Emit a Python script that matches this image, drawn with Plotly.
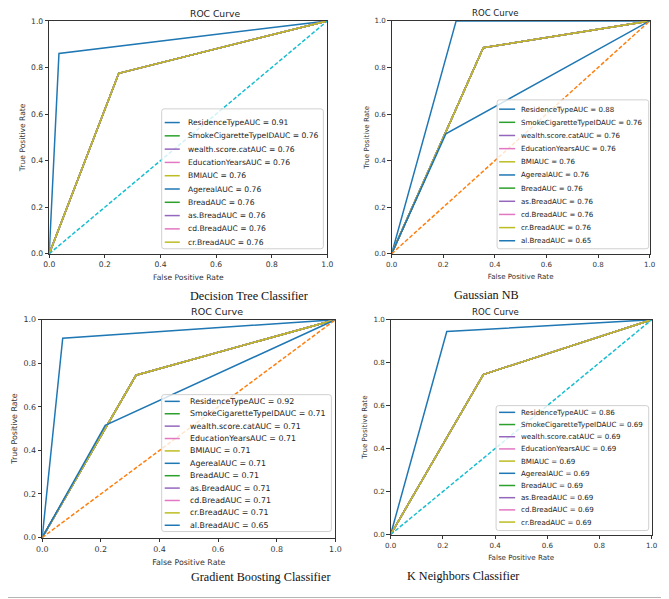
import plotly.graph_objects as go

# the page body adds an 8px margin; the figure keeps the window size and runs past it
OFF = 8
W, H = 669, 599
# small correction measured from earlier renders (window px = a + b * intended px)
AX, BX = 7.1, 0.978
AY, BY = 4.2, 0.984

# matplotlib default colour cycle
tab10 = ["#1f77b4", "#ff7f0e", "#2ca02c", "#d62728", "#9467bd",
         "#8c564b", "#e377c2", "#7f7f7f", "#bcbd22", "#17becf"]

features = ["ResidenceType", "SmokeCigaretteTypeID", "wealth.score.cat", "EducationYears",
            "BMI", "Agereal", "Bread", "as.Bread", "cd.Bread", "cr.Bread", "al.Bread"]

# Decision Tree Classifier
dt_auc = [0.91, 0.76, 0.76, 0.76, 0.76, 0.76, 0.76, 0.76, 0.76, 0.76]
dt_fpr = [[0, 0.035, 1], [0, 0.25, 1], [0, 0.25, 1], [0, 0.25, 1], [0, 0.25, 1],
          [0, 0.25, 1], [0, 0.25, 1], [0, 0.25, 1], [0, 0.25, 1], [0, 0.25, 1]]
dt_tpr = [[0, 0.86, 1], [0, 0.775, 1], [0, 0.775, 1], [0, 0.775, 1], [0, 0.775, 1],
          [0, 0.775, 1], [0, 0.775, 1], [0, 0.775, 1], [0, 0.775, 1], [0, 0.775, 1]]

# Gaussian NB
nb_auc = [0.88, 0.76, 0.76, 0.76, 0.76, 0.76, 0.76, 0.76, 0.76, 0.76, 0.65]
nb_fpr = [[0, 0.25, 1], [0, 0.355, 1], [0, 0.355, 1], [0, 0.355, 1], [0, 0.355, 1], [0, 0.355, 1],
          [0, 0.355, 1], [0, 0.355, 1], [0, 0.355, 1], [0, 0.355, 1], [0, 0.21, 1]]
nb_tpr = [[0, 1.0, 1], [0, 0.885, 1], [0, 0.885, 1], [0, 0.885, 1], [0, 0.885, 1], [0, 0.885, 1],
          [0, 0.885, 1], [0, 0.885, 1], [0, 0.885, 1], [0, 0.885, 1], [0, 0.515, 1]]

# Gradient Boosting Classifier
gb_auc = [0.92, 0.71, 0.71, 0.71, 0.71, 0.71, 0.71, 0.71, 0.71, 0.71, 0.65]
gb_fpr = [[0, 0.07, 1], [0, 0.32, 1], [0, 0.32, 1], [0, 0.32, 1], [0, 0.32, 1], [0, 0.32, 1],
          [0, 0.32, 1], [0, 0.32, 1], [0, 0.32, 1], [0, 0.32, 1], [0, 0.215, 1]]
gb_tpr = [[0, 0.915, 1], [0, 0.745, 1], [0, 0.745, 1], [0, 0.745, 1], [0, 0.745, 1], [0, 0.745, 1],
          [0, 0.745, 1], [0, 0.745, 1], [0, 0.745, 1], [0, 0.745, 1], [0, 0.515, 1]]

# K Neighbors Classifier
kn_auc = [0.86, 0.69, 0.69, 0.69, 0.69, 0.69, 0.69, 0.69, 0.69, 0.69]
kn_fpr = [[0, 0.215, 1], [0, 0.355, 1], [0, 0.355, 1], [0, 0.355, 1], [0, 0.355, 1],
          [0, 0.355, 1], [0, 0.355, 1], [0, 0.355, 1], [0, 0.355, 1], [0, 0.355, 1]]
kn_tpr = [[0, 0.945, 1], [0, 0.745, 1], [0, 0.745, 1], [0, 0.745, 1], [0, 0.745, 1],
          [0, 0.745, 1], [0, 0.745, 1], [0, 0.745, 1], [0, 0.745, 1], [0, 0.745, 1]]

captions = ["Decision Tree Classifier", "Gaussian NB",
            "Gradient Boosting Classifier", "K Neighbors Classifier"]
tick_vals = [0, 0.2, 0.4, 0.6, 0.8, 1.0]
tick_text = ["0.0", "0.2", "0.4", "0.6", "0.8", "1.0"]


# window pixel -> paper fraction
def px(x):
    return ((x - AX) / BX - OFF) / W


def py(y):
    return 1 - ((y - AY) / BY - OFF) / H


# pixel layout of each panel: axes box, legend box, legend rows, caption, text scale
panels = [
    dict(auc=dt_auc, fpr=dt_fpr, tpr=dt_tpr, ax=(50, 327, 20, 253), leg=(162, 323, 108, 248),
         row0=121.7, step=13.3, lx=(165, 180, 186), title_y=12.5, cap_y=295, s=1.0),
    dict(auc=nb_auc, fpr=nb_fpr, tpr=nb_tpr, ax=(391, 648, 20, 253), leg=(496, 647, 99, 248),
         row0=108.3, step=13.17, lx=(498, 514, 518), title_y=12.5, cap_y=294, s=0.93),
    dict(auc=gb_auc, fpr=gb_fpr, tpr=gb_tpr, ax=(43, 335, 319, 537), leg=(162, 331, 394, 531),
         row0=400.7, step=12.4, lx=(165, 180, 188), title_y=311, cap_y=576, s=1.04),
    dict(auc=kn_auc, fpr=kn_fpr, tpr=kn_tpr, ax=(390, 650, 319, 534), leg=(495, 647, 405, 530),
         row0=411.7, step=12.2, lx=(498, 514, 518), title_y=311, cap_y=575, s=0.935),
]

fig = go.Figure()
shapes = []
annotations = []


def rounded_rect(x0, x1, y0, y1, r=2.5):
    pts = [("M", x0 + r, y0), ("L", x1 - r, y0), ("Q", x1, y0), ("", x1, y0 + r),
           ("L", x1, y1 - r), ("Q", x1, y1), ("", x1 - r, y1), ("L", x0 + r, y1),
           ("Q", x0, y1), ("", x0, y1 - r), ("L", x0, y0 + r), ("Q", x0, y0), ("", x0 + r, y0)]
    return " ".join(f"{c} {px(a):.5f},{py(b):.5f}".strip() for c, a, b in pts) + " Z"


for k, p in enumerate(panels):
    sfx = "" if k == 0 else str(k + 1)
    s = p["s"]
    n = len(p["auc"])
    for i in range(n):
        fig.add_trace(go.Scatter(
            x=p["fpr"][i], y=p["tpr"][i], mode="lines", showlegend=False,
            line=dict(color=tab10[(2 * i) % 10], width=1.5),
            xaxis="x" + sfx, yaxis="y" + sfx))
    # chance line, colour follows the cycle after the last curve
    fig.add_trace(go.Scatter(
        x=[0, 1], y=[0, 1], mode="lines", showlegend=False,
        line=dict(color=tab10[(2 * n - 1) % 10], width=1.5, dash="4px,2px"),
        xaxis="x" + sfx, yaxis="y" + sfx))

    axis_font = dict(family="DejaVu Sans", size=7.6 * s, color="#333")
    x0, x1, y0, y1 = p["ax"]
    common = dict(range=[0, 1], showgrid=False, zeroline=False, showline=True, mirror=True,
                  linecolor="#333", linewidth=1, ticks="outside", ticklen=3.5, tickcolor="#333",
                  tickvals=tick_vals, ticktext=tick_text, tickfont=axis_font, automargin=True)
    fig.update_layout(**{
        "xaxis" + sfx: dict(common, domain=[px(x0), px(x1)], anchor="y" + sfx,
                            title=dict(text="False Positive Rate", font=axis_font, standoff=6)),
        "yaxis" + sfx: dict(common, domain=[py(y1), py(y0)], anchor="x" + sfx,
                            title=dict(text="True Positive Rate", font=axis_font, standoff=4)),
    })

    annotations.append(dict(text="ROC Curve", x=px((x0 + x1) / 2), y=py(p["title_y"]),
                            xref="paper", yref="paper", showarrow=False, yanchor="middle",
                            font=dict(family="DejaVu Sans", size=9.2 * s, color="#222")))
    annotations.append(dict(text=captions[k], x=px((x0 + x1) / 2), y=py(p["cap_y"]),
                            xref="paper", yref="paper", showarrow=False, yanchor="middle",
                            font=dict(family="Liberation Serif", size=12.2, color="#111")))

    # legend drawn by hand so rows can sit as tight as in matplotlib
    lx0, lx1, ly0, ly1 = p["leg"]
    shapes.append(dict(type="path", path=rounded_rect(lx0, lx1, ly0, ly1), xref="paper",
                       yref="paper", line=dict(color="#d0d0d0", width=1),
                       fillcolor="rgba(255,255,255,0.8)", layer="above"))
    hx0, hx1, tx = p["lx"]
    for i in range(n):
        yy = p["row0"] + i * p["step"]
        shapes.append(dict(type="line", xref="paper", yref="paper", x0=px(hx0), x1=px(hx1),
                           y0=py(yy), y1=py(yy), line=dict(color=tab10[(2 * i) % 10], width=1.5),
                           layer="above"))
        annotations.append(dict(text=f"{features[i]}AUC = {p['auc'][i]:.2f}", x=px(tx), y=py(yy),
                                xref="paper", yref="paper", showarrow=False, xanchor="left",
                                yanchor="middle",
                                font=dict(family="DejaVu Sans", size=7.6 * s, color="#222")))

# page frame: right and bottom edges (top and left fall in the body margin)
frame_path = (f"M {px(661):.5f},{py(1):.5f} L {px(666):.5f},{py(250):.5f} "
              f"L {px(667):.5f},{py(597):.5f} L {px(2):.5f},{py(597):.5f}")
shapes.append(dict(type="path", path=frame_path, xref="paper", yref="paper",
                   line=dict(color="#b5b5b5", width=1.2)))

fig.update_layout(width=W, height=H, margin=dict(l=0, r=0, t=0, b=0),
                  paper_bgcolor="white", plot_bgcolor="white",
                  shapes=shapes, annotations=annotations, showlegend=False)

fig.write_html("out.html")
